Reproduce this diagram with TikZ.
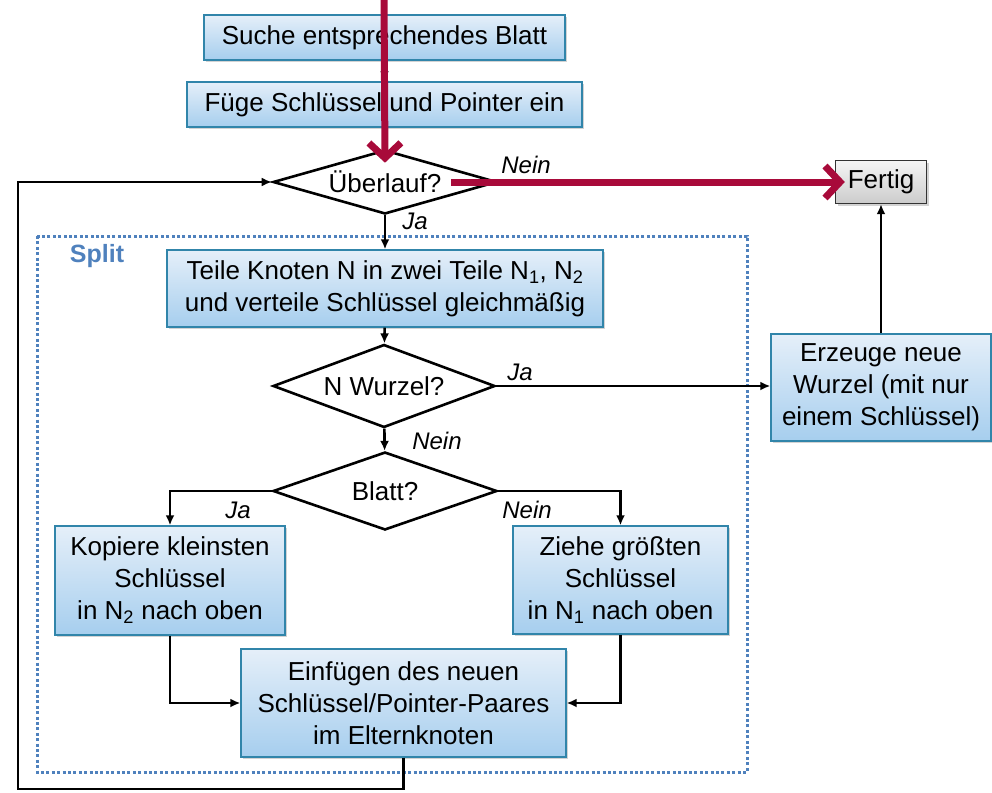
\documentclass[tikz,border=0pt]{standalone}
\usepackage{fontspec}
\setmainfont{Liberation Sans}
\usetikzlibrary{arrows.meta,shapes.geometric,shadows}
\definecolor{boxline}{RGB}{49,133,170}
\definecolor{boxtop}{RGB}{229,239,249}
\definecolor{boxbot}{RGB}{166,206,238}
\definecolor{splitblue}{RGB}{79,129,189}
\definecolor{redarrow}{RGB}{168,10,58}
\begin{document}
\begin{tikzpicture}[x=1pt,y=-1pt,
    every node/.style={font=\fontsize{26}{32}\selectfont},
    process/.style={draw=boxline,line width=1.4pt,top color=boxtop,bottom color=boxbot,
      align=center,inner sep=2pt,drop shadow={opacity=0.35,shadow xshift=2pt,shadow yshift=-2pt}},
    finish/.style={draw=black!80,line width=1.4pt,top color=gray!8,bottom color=gray!40,
      inner sep=2pt,drop shadow={opacity=0.35,shadow xshift=2pt,shadow yshift=-2pt}},
    decision/.style={diamond,draw,line width=2.6pt,fill=white,inner sep=0pt},
    flow/.style={line width=2.6pt,-{Latex[length=10pt,width=9pt]}},
    hot/.style={line width=7pt,redarrow,-{Straight Barb[length=15pt,width=32pt]}},
    lbl/.style={font=\fontsize{24}{28}\selectfont\itshape}]
    \useasboundingbox (0,0) rectangle (992,792);
    % split frame
    \draw[splitblue,line width=3pt,dash pattern=on 3pt off 2.4pt] (37,236) rectangle (747,772);
    \node[font=\fontsize{25}{30}\selectfont\bfseries,text=splitblue] (splitlbl) at (97,256) {Split};
    % boxes
    \node[process,minimum width=361,minimum height=45] (suche) at (384.5,37.5) {Suche entsprechendes Blatt};
    \node[process,minimum width=395,minimum height=45] (fuege) at (384.5,104.5) {Füge Schlüssel und Pointer ein};
    \node[decision,aspect=3.5,minimum width=224,minimum height=64] (ueber) at (385,182) {Überlauf?};
    \node[finish,minimum width=91,minimum height=43] (fertig) at (881,182) {Fertig};
    \node[process,minimum width=436,minimum height=77] (teile) at (385,288.5)
      {Teile Knoten N in zwei Teile N\textsubscript{1}, N\textsubscript{2}\\und verteile Schlüssel gleichmäßig};
    \node[decision,aspect=2.67,minimum width=222,minimum height=83] (wurzel) at (384,386) {N Wurzel?};
    \node[process,minimum width=220,minimum height=107] (erz) at (881,387.5)
      {Erzeuge neue\\Wurzel (mit nur\\einem Schlüssel)};
    \node[decision,aspect=2.87,minimum width=224,minimum height=78] (blatt) at (385,491) {Blatt?};
    \node[process,minimum width=230,minimum height=109] (kopiere) at (170,580.5)
      {Kopiere kleinsten\\Schlüssel\\in N\textsubscript{2} nach oben};
    \node[process,minimum width=215,minimum height=108] (ziehe) at (620.5,580)
      {Ziehe größten\\Schlüssel\\in N\textsubscript{1} nach oben};
    \node[process,minimum width=325,minimum height=108] (einf) at (403.5,703)
      {Einfügen des neuen\\Schlüssel/Pointer-Paares\\im Elternknoten};
    % labels
    \node[lbl] (nein1) at (526,165) {Nein};
    \node[lbl] (ja1) at (415,221) {Ja};
    \node[lbl] (ja2) at (520,372) {Ja};
    \node[lbl] (nein2) at (437,441) {Nein};
    \node[lbl] (ja3) at (238,510) {Ja};
    \node[lbl] (nein3) at (527,510) {Nein};
    % connectors
    \coordinate (rtop) at (384,0);
    \coordinate (rstart) at (451,182);
    \coordinate (lbot) at (18,789);
    \draw[flow] (suche) -- (fuege);
    \draw[flow] (ueber) -- (teile);
    \draw[flow] (teile) -- (wurzel);
    \draw[flow] (wurzel) -- (blatt);
    \draw[flow] (wurzel.east) -- (wurzel.east -| erz.west);
    \draw[flow] (erz) -- (fertig);
    \draw[flow] (blatt.west) -| (kopiere.north);
    \draw[flow] (blatt.east) -| (ziehe.north);
    \draw[flow] (kopiere.south) |- (einf.west);
    \draw[flow] (ziehe.south) |- (einf.east);
    \draw[flow] (einf.south) |- (lbot) |- (ueber.west);
    \draw[hot] (rtop) -- ([yshift=-14pt]ueber.north);
    \draw[hot] (rstart) -- ([xshift=10pt]fertig.west);
  \end{tikzpicture}
\end{document}
